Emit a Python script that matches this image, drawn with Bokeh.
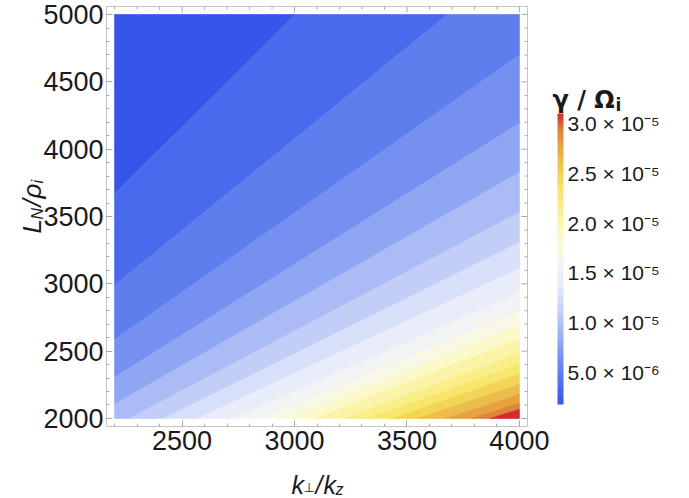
import numpy as np
from bokeh.plotting import figure
from bokeh.models import ColorBar, LinearColorMapper, FixedTicker, Range1d, ColumnDataSource
from bokeh.embed import file_html
from bokeh.resources import INLINE

# ---------------- data ----------------
k_range = [2200, 4000]            # k_perp / k_z extent of the computed region
L_range = [2000, 5000]            # L_N / rho_i extent
# contour-band edges: value of (k_perp/k_z) / (L_N/rho_i) along each boundary line
boundary_ratio = [0.600, 0.736, 0.851, 0.954, 1.045, 1.133, 1.210, 1.285, 1.364,
                  1.429, 1.489, 1.544, 1.610, 1.665, 1.718, 1.775, 1.836, 1.894, 1.935]
# fill colour of each band, lowest gamma first
band_colors = ["#3855ea", "#4a6aed", "#5f7eee", "#7590f0", "#8fa6f2", "#aabbf5",
               "#c3cef7", "#d9e0f9", "#e9edfa", "#f2f3f3", "#f9f8e4", "#fcf9c8",
               "#fbf4a8", "#f9ee88", "#f6e66a", "#f2d556", "#ecbd4a", "#e7a141",
               "#e0823a", "#d42a2c"]
gamma_min, gamma_max = 1.78e-6, 3.10e-5
cb_ticks = [5e-6, 1e-5, 1.5e-5, 2e-5, 2.5e-5, 3e-5]
cb_tick_labels = ["5.0 × 10⁻⁶", "1.0 × 10⁻⁵", "1.5 × 10⁻⁵", "2.0 × 10⁻⁵",
                  "2.5 × 10⁻⁵", "3.0 × 10⁻⁵"]
x_ticks = [2500, 3000, 3500, 4000]
y_ticks = [2000, 2500, 3000, 3500, 4000, 4500, 5000]

# ---------------- geometry ----------------
pad = 0.02
X0 = k_range[0] - pad * (k_range[1] - k_range[0])
X1 = k_range[1] + pad * (k_range[1] - k_range[0])
Y0 = L_range[0] - pad * (L_range[1] - L_range[0])
Y1 = L_range[1] + pad * (L_range[1] - L_range[0])

W, H = 689, 498
FL, FW, FT, FH = 106, 421, 6, 420

FRAME = "#c4c4c4"
TICK = "#a8a8a8"
TXT = "#1a1a1a"

ux = (X1 - X0) / FW   # data units per pixel
uy = (Y1 - Y0) / FH


def dx(px):  # canvas pixel -> data x
    return X0 + (px - FL) * ux


def dy(py):  # canvas pixel -> data y
    return Y1 - (py - FT) * uy


p = figure(width=W, height=H, x_range=Range1d(X0, X1), y_range=Range1d(Y0, Y1),
           output_backend="svg", toolbar_location=None,
           min_border_left=FL, min_border_right=W - FL - FW,
           min_border_top=FT, min_border_bottom=H - FT - FH)
p.background_fill_color = "white"
p.border_fill_color = "white"
p.outline_line_color = FRAME
p.xgrid.visible = False
p.ygrid.visible = False


# ---------------- contour bands ----------------
def clip_half(poly, r, s):
    out = []
    n = len(poly)
    for i in range(n):
        P = poly[i]
        Q = poly[(i + 1) % n]
        fp = s * (P[0] - r * P[1])
        fq = s * (Q[0] - r * Q[1])
        if fp >= 0:
            out.append(P)
        if (fp >= 0) != (fq >= 0):
            t = fp / (fp - fq)
            out.append((P[0] + t * (Q[0] - P[0]), P[1] + t * (Q[1] - P[1])))
    return out


rect = [(k_range[0], L_range[0]), (k_range[1], L_range[0]),
        (k_range[1], L_range[1]), (k_range[0], L_range[1])]
xs, ys = [], []
for i in range(len(band_colors)):
    poly = rect
    if i > 0:
        poly = clip_half(poly, boundary_ratio[i - 1], +1)
    if i < len(boundary_ratio):
        poly = clip_half(poly, boundary_ratio[i], -1)
    xs.append([q[0] for q in poly])
    ys.append([q[1] for q in poly])
p.patches(xs, ys, fill_color=band_colors, line_color=band_colors, line_width=0.7)

# ---------------- axes ----------------
for ax in (p.xaxis[0], p.yaxis[0]):
    ax.axis_line_color = FRAME
    ax.major_tick_in = 6
    ax.major_tick_out = 0
    ax.minor_tick_in = 3
    ax.minor_tick_out = 0
    ax.major_tick_line_color = TICK
    ax.minor_tick_line_color = TICK
    ax.major_label_text_font = "Liberation Sans"
    ax.major_label_text_font_size = "27px"
    ax.major_label_text_color = TXT
    ax.axis_label = None
p.xaxis[0].ticker = FixedTicker(ticks=x_ticks, minor_ticks=list(range(2200, 4001, 100)))
p.yaxis[0].ticker = FixedTicker(ticks=y_ticks, minor_ticks=list(range(2000, 5001, 100)))
p.xaxis[0].major_label_standoff = 4
p.yaxis[0].major_label_standoff = 3

# frame ticks on top and right edges
tx_major = x_ticks
tx_minor = [v for v in range(2200, 4001, 100) if v not in x_ticks]
ty_major = y_ticks
ty_minor = [v for v in range(2000, 5001, 100) if v not in y_ticks]
p.segment(x0=tx_major, y0=[Y1] * len(tx_major), x1=tx_major, y1=[Y1 - 6 * uy] * len(tx_major),
          line_color=TICK, line_width=1)
p.segment(x0=tx_minor, y0=[Y1] * len(tx_minor), x1=tx_minor, y1=[Y1 - 3 * uy] * len(tx_minor),
          line_color=TICK, line_width=1)
p.segment(x0=[X1] * len(ty_major), y0=ty_major, x1=[X1 - 6 * ux] * len(ty_major), y1=ty_major,
          line_color=TICK, line_width=1)
p.segment(x0=[X1] * len(ty_minor), y0=ty_minor, x1=[X1 - 3 * ux] * len(ty_minor), y1=ty_minor,
          line_color=TICK, line_width=1)

# ---------------- titles (pieces, for subscripts) ----------------
pieces = dict(x=[], y=[], text=[], font=[], size=[], style=[], angle=[])


def piece(text, px, py, size, font="Liberation Sans", style="italic", angle=0.0):
    pieces["x"].append(dx(px))
    pieces["y"].append(dy(py))
    pieces["text"].append(text)
    pieces["font"].append(font)
    pieces["size"].append(f"{size}px")
    pieces["style"].append(style)
    pieces["angle"].append(angle)


# x title: k_perp / k_z
bx, by = 291, 484
piece("k", bx, by, 25)
piece("⊥", bx + 12, by + 3, 13, font="DejaVu Sans", style="normal")
piece("/", bx + 24, by, 25)
piece("k", bx + 32, by, 25)
piece("z", bx + 44, by + 5, 16)

# y title: L_N / rho_i (rotated)
ang = np.pi / 2
yx, yy = 31, 233
piece("L", yx, yy, 26, angle=ang)
piece("N", yx + 6, yy - 14, 16, angle=ang)
piece("/", yx, yy - 27, 26, angle=ang)
piece("ρ", yx, yy - 35, 26, angle=ang)
piece("i", yx + 6, yy - 50, 16, angle=ang)

# colour-bar title: gamma / Omega_i
piece("γ / Ω", 552, 99, 24, font="DejaVu Sans", style="bold")
piece("i", 615, 104, 17, font="DejaVu Sans", style="bold")

src = ColumnDataSource(pieces)
p.text(x="x", y="y", text="text", source=src, text_font="font", text_font_size="size",
       text_font_style="style", angle="angle", text_color=TXT, text_align="left",
       text_baseline="alphabetic", level="overlay")


# ---------------- colour bar ----------------
def hex2rgb(h):
    return np.array([int(h[i:i + 2], 16) for i in (1, 3, 5)], dtype=float)


stops = np.linspace(0, 1, len(band_colors))
cols = np.array([hex2rgb(c) for c in band_colors])
pal = []
for t in np.linspace(0, 1, 256):
    rgb = [np.interp(t, stops, cols[:, j]) for j in range(3)]
    pal.append("#%02x%02x%02x" % tuple(int(round(v)) for v in rgb))

mapper = LinearColorMapper(palette=pal, low=gamma_min, high=gamma_max)
cb = ColorBar(color_mapper=mapper, width=6, height=291, location=(30, 22),
              padding=0, margin=0, label_standoff=4,
              ticker=FixedTicker(ticks=cb_ticks),
              major_label_overrides={t: s for t, s in zip(cb_ticks, cb_tick_labels)},
              major_label_text_font="Liberation Sans", major_label_text_font_size="21px",
              major_label_text_color=TXT, major_tick_line_color=None,
              minor_tick_line_color=None, bar_line_color=None, border_line_color=None,
              background_fill_color=None)
p.add_layout(cb, "right")

open("out.html", "w").write(file_html(p, INLINE))
